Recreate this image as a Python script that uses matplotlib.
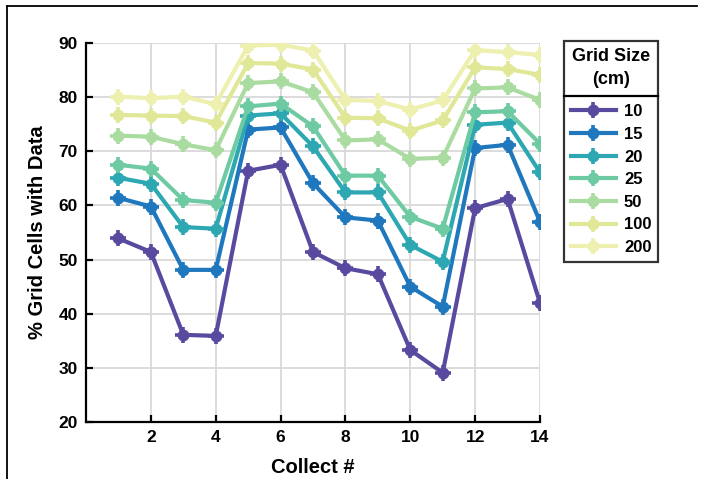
import matplotlib
matplotlib.use("Agg")
import matplotlib.pyplot as plt
from matplotlib.lines import Line2D
from matplotlib.legend_handler import HandlerTuple

plt.rcParams['font.family'] = ['Liberation Sans', 'DejaVu Sans']
plt.rcParams['font.weight'] = 'bold'

collect = list(range(1, 15))
grid_sizes = ['10', '15', '20', '25', '50', '100', '200']
s10 = [53.9, 51.4, 36.1, 35.9, 66.4, 67.5, 51.4, 48.4, 47.3, 33.3, 29.1, 59.5, 61.2, 42.0]
s15 = [61.4, 59.8, 48.1, 48.1, 74.0, 74.4, 64.1, 57.8, 57.2, 45.0, 41.3, 70.6, 71.2, 57.0]
s20 = [65.1, 64.0, 56.0, 55.7, 76.6, 77.0, 70.9, 62.4, 62.4, 52.7, 49.6, 74.9, 75.3, 66.1]
s25 = [67.5, 66.8, 61.0, 60.5, 78.3, 78.8, 74.6, 65.5, 65.5, 57.9, 55.7, 77.2, 77.4, 71.4]
s50 = [72.9, 72.7, 71.3, 70.2, 82.6, 82.9, 80.9, 72.0, 72.2, 68.6, 68.8, 81.6, 81.8, 79.5]
s100 = [76.7, 76.6, 76.5, 75.3, 86.3, 86.2, 85.1, 76.2, 76.1, 73.8, 75.7, 85.5, 85.2, 84.1]
s200 = [80.1, 79.8, 80.1, 78.7, 89.5, 89.7, 88.6, 79.5, 79.3, 77.7, 79.4, 88.7, 88.3, 87.8]
series = [s10, s15, s20, s25, s50, s100, s200]
colors = ['#5a4a9f', '#1f78be', '#2da8b2', '#6ecaa2', '#aadca2', '#e0e898', '#edf0ae']

W, H = 703, 479
fig = plt.figure(figsize=(W / 100, H / 100), dpi=100)
ax = fig.add_axes([86 / W, 1 - 422 / H, (540 - 86) / W, (422 - 43) / H])

handles = []
for vals, c, lab in zip(series, colors, grid_sizes):
    l1, = ax.plot(collect, vals, color=c, lw=3.0, marker='o', ms=7.5, mec=c, mfc=c,
                  zorder=3)
    l2, = ax.plot(collect, vals, color=c, lw=0, marker='+', ms=11, mew=2.6, zorder=3)
    handles.append((l1, l2))

ax.set_xlim(0, 14)
ax.set_ylim(20, 90)
ax.set_xticks(range(2, 15, 2))
ax.set_yticks(range(20, 91, 10))
ax.grid(True, color='#d9d9d9', lw=1.3, zorder=0)
ax.set_axisbelow(True)
for s in ['top', 'right']:
    ax.spines[s].set_visible(False)
for s in ['left', 'bottom']:
    ax.spines[s].set_linewidth(1.6)
ax.tick_params(direction='in', length=5, width=1.6, labelsize=12.5, pad=6)
for t in ax.get_xticklabels() + ax.get_yticklabels():
    t.set_fontweight('bold')
ax.set_xlabel('Collect #', fontsize=14.5, fontweight='bold', labelpad=9)
ax.set_ylabel('% Grid Cells with Data', fontsize=14.5, fontweight='bold', labelpad=8)

leg = ax.legend(handles, grid_sizes, handler_map={tuple: HandlerTuple(ndivide=1)},
                numpoints=1,
                loc='upper left', bbox_to_anchor=(564 / W, 1 - 41 / H),
                bbox_transform=fig.transFigure, title='Grid Size\n(cm)',
                title_fontproperties={'weight': 'bold', 'size': 13},
                prop={'weight': 'bold', 'size': 12}, frameon=True, fancybox=False,
                edgecolor='black', handlelength=2.7, handletextpad=0.5,
                labelspacing=0.46, borderpad=0.4, borderaxespad=0)
leg.get_frame().set_linewidth(1.6)
leg.get_title().set_multialignment('center')
leg.get_title().set_linespacing(1.5)
leg._legend_box.sep = leg._legend_box.sep + 6
leg.set_zorder(5)

fig.canvas.draw()
renderer = fig.canvas.get_renderer()
tb = leg.get_title().get_window_extent(renderer)
hb = leg._legend_handle_box.get_window_extent(renderer)
lb = leg.get_frame().get_window_extent(renderer)
yline = (tb.y0 + hb.y1) / 2
fig.add_artist(Line2D([lb.x0 / W, lb.x1 / W], [yline / H, yline / H],
                      transform=fig.transFigure, color='black', lw=1.6))

# outer frame (top and left)
fig.add_artist(Line2D([7 / W, 697 / W], [1 - 6 / H, 1 - 6 / H], transform=fig.transFigure,
                      color='black', lw=1.3))
fig.add_artist(Line2D([7 / W, 7 / W], [0, 1 - 6 / H], transform=fig.transFigure,
                      color='black', lw=1.3))

fig.savefig('out.png', dpi=100)
